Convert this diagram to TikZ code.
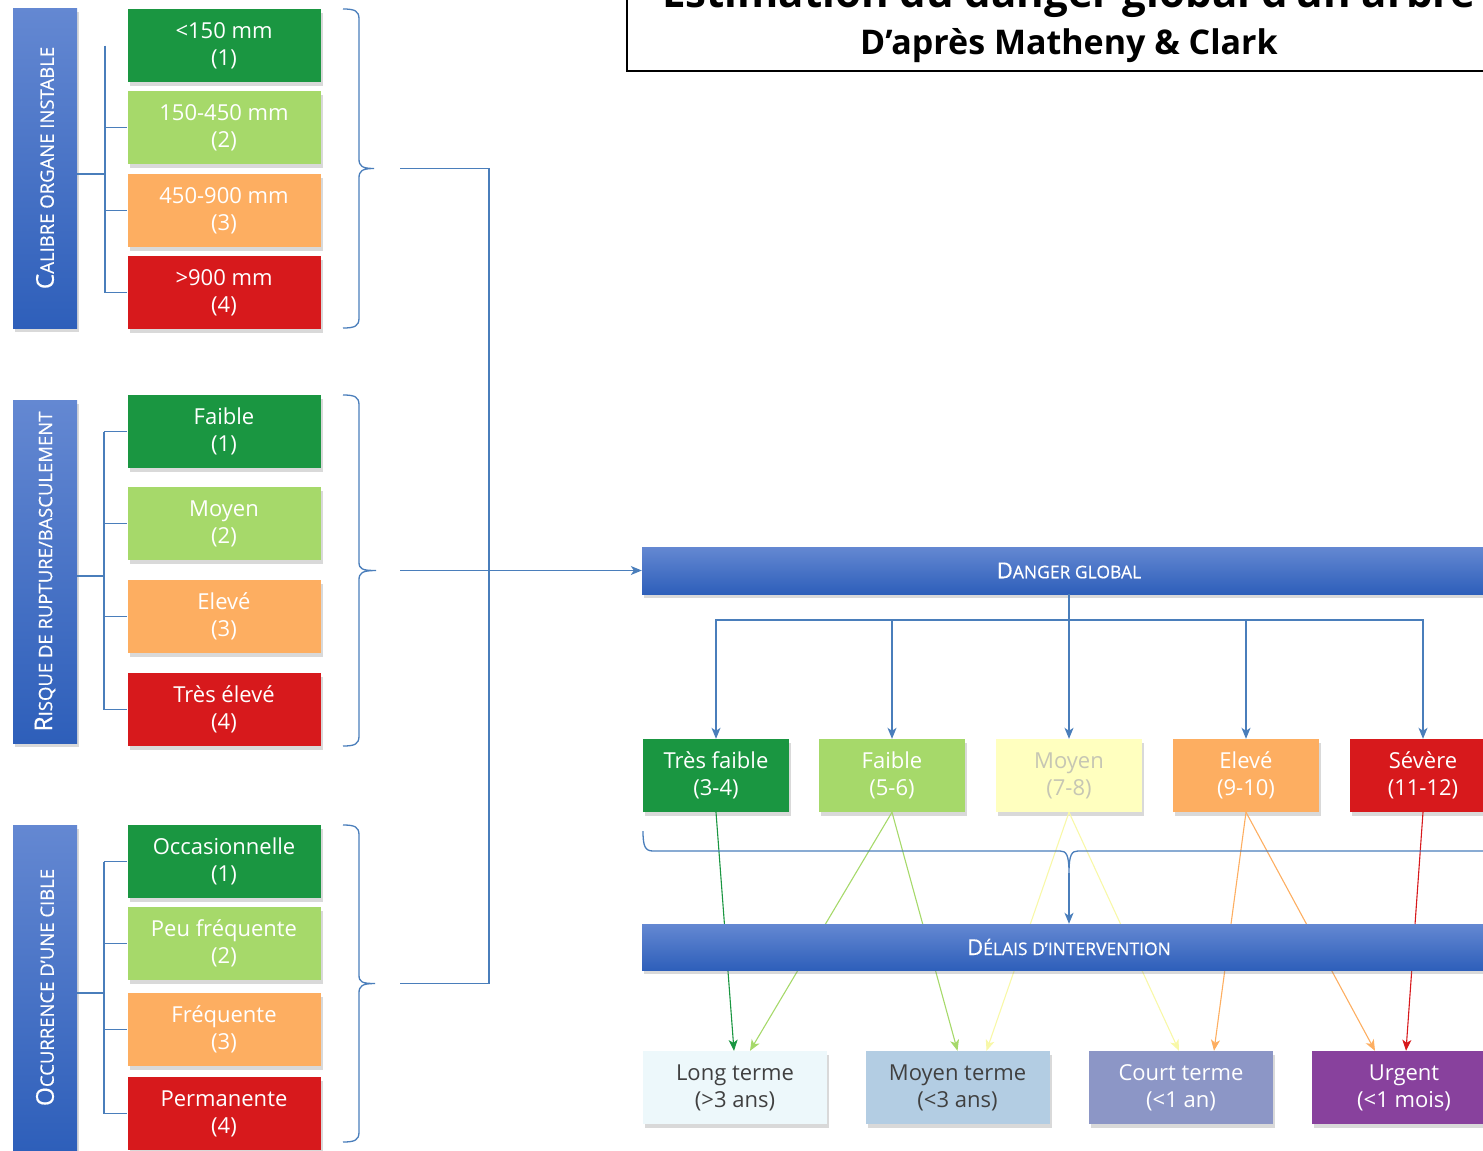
\documentclass[tikz,border=0pt]{standalone}
\usepackage{fontspec}
\setmainfont{Open Sans}
\newfontfamily\semib[FakeBold=0.5]{Open Sans}
\usetikzlibrary{arrows.meta,shadows}
\definecolor{cgreen}{HTML}{1A9641}
\definecolor{clgreen}{HTML}{A6D96A}
\definecolor{cyellow}{HTML}{FFFFBF}
\definecolor{cyline}{HTML}{F8F8A8}
\definecolor{corange}{HTML}{FDAE61}
\definecolor{cred}{HTML}{D7191C}
\definecolor{bpa}{HTML}{EDF8FB}
\definecolor{bpb}{HTML}{B3CDE3}
\definecolor{bpc}{HTML}{8C96C6}
\definecolor{bpd}{HTML}{88419D}
\definecolor{lblue}{HTML}{4A7EBB}
\definecolor{bartop}{HTML}{6488D2}
\definecolor{barbot}{HTML}{2E5FBA}
\definecolor{ytext}{HTML}{C6C6B4}
\definecolor{dtext}{HTML}{404040}
\newcommand\hcap[2]{{\semib\fontsize{22}{26}\selectfont #1}{\semib\fontsize{17.5}{22}\selectfont #2}}
\newcommand\vcap[2]{{\semib\fontsize{24.5}{28}\selectfont #1}{\semib\fontsize{18.5}{22}\selectfont #2}}
\begin{document}
\begin{tikzpicture}[x=1pt,y=-1pt,
  shad/.style={drop shadow={shadow xshift=2pt,shadow yshift=-4pt,opacity=0.3}},
  box/.style={rectangle,inner sep=0pt,align=center,text=white,font=\fontsize{22}{27}\selectfont,shad},
  cbox/.style={box,minimum width=193pt,minimum height=73pt},
  mbox/.style={box,minimum width=146pt,minimum height=73pt},
  dbox/.style={box,minimum width=184pt,minimum height=73pt},
  vbar/.style={rectangle,minimum width=64pt,top color=bartop,bottom color=barbot,draw=none,shad},
  vtext/.style={rotate=90,text=white,inner sep=0pt},
  hbar/.style={rectangle,minimum width=854pt,top color=bartop,bottom color=barbot,draw=none,text=white,shad},
  conn/.style={draw=lblue,line width=1.3pt},
  arr/.style={-{Stealth[length=11pt,width=9pt,inset=3pt]}},
  cl/.style={line width=1.1pt,arr}
]
\useasboundingbox (0,0) rectangle (1483,1151);
\clip (0,0) rectangle (1483,1151);

% title
\node (title) [draw=black,line width=2pt,anchor=south west,minimum width=900pt,minimum height=110pt,inner sep=0pt] at (626,72) {};
\node (t1) [anchor=base,font=\bfseries\fontsize{42}{46}\selectfont] at (1069,8) {Estimation du danger global d’un arbre};
\node (t2) [anchor=base,font=\bfseries\fontsize{34}{38}\selectfont] at (1069,54) {D’après Matheny \& Clark};

% left bars
\node[vbar,minimum height=320pt] (v1) at (45,168) {};
\node[vtext] (v1t) at (v1) {\vcap{C}{ALIBRE ORGANE INSTABLE}};
\node[vbar,minimum height=343pt] (v2) at (45,571.5) {};
\node[vtext] (v2t) at (v2) {\vcap{R}{ISQUE DE RUPTURE/BASCULEMENT}};
\node[vbar,minimum height=325pt] (v3) at (45,987.5) {};
\node[vtext] (v3t) at (v3) {\vcap{O}{CCURRENCE D’UNE CIBLE}};

% column boxes
\node[cbox,fill=cgreen] (c11) at (224,45.5) {<150 mm\\(1)};
\node[cbox,fill=clgreen] (c12) at (224,127.5) {150-450 mm\\(2)};
\node[cbox,fill=corange] (c13) at (224,210.5) {450-900 mm\\(3)};
\node[cbox,fill=cred] (c14) at (224,292.5) {>900 mm\\(4)};

\node[cbox,fill=cgreen] (c21) at (224,431.5) {Faible\\(1)};
\node[cbox,fill=clgreen] (c22) at (224,523.5) {Moyen\\(2)};
\node[cbox,fill=corange] (c23) at (224,616.5) {Elevé\\(3)};
\node[cbox,fill=cred] (c24) at (224,709.5) {Très élevé\\(4)};

\node[cbox,fill=cgreen] (c31) at (224,861.5) {Occasionnelle\\(1)};
\node[cbox,fill=clgreen] (c32) at (224,943.5) {Peu fréquente\\(2)};
\node[cbox,fill=corange] (c33) at (224,1029.5) {Fréquente\\(3)};
\node[cbox,fill=cred] (c34) at (224,1113.5) {Permanente\\(4)};

% trees
\coordinate (k1) at (105,0);
\coordinate (k2) at (104,0);
\draw[conn] ([yshift=-6pt]v1.east) -- ([yshift=-6pt]v1.east -| k1);
\draw[conn] (c11 -| k1) -- (c14 -| k1);
\foreach \n in {c12,c13,c14} \draw[conn] (\n -| k1) -- (\n.west);
\draw[conn] ([yshift=-4.5pt]v2.east) -- ([yshift=-4.5pt]v2.east -| k2);
\draw[conn] (c21 -| k2) -- (c24 -| k2);
\foreach \n in {c21,c22,c23,c24} \draw[conn] (\n -| k2) -- (\n.west);
\draw[conn] ([yshift=-5.5pt]v3.east) -- ([yshift=-5.5pt]v3.east -| k2);
\draw[conn] (c31 -| k2) -- (c34 -| k2);
\foreach \n in {c31,c32,c33,c34} \draw[conn] (\n -| k2) -- (\n.west);

% braces (right-pointing)
\draw[conn] (343,9) .. controls (355,9) and (359,11) .. (359,19) -- (359,159)
  .. controls (359,166) and (362,168.5) .. (374,168.5)
  .. controls (362,168.5) and (359,171) .. (359,178) -- (359,318)
  .. controls (359,326) and (355,328) .. (343,328);
\draw[conn] (343,395) .. controls (355,395) and (359,397) .. (359,405) -- (359,562)
  .. controls (359,569) and (362,570.5) .. (376,570.5)
  .. controls (362,570.5) and (359,573) .. (359,580) -- (359,736)
  .. controls (359,744) and (355,746) .. (343,746);
\draw[conn] (343,825) .. controls (355,825) and (359,827) .. (359,835) -- (359,975)
  .. controls (359,982) and (362,983.5) .. (375,983.5)
  .. controls (362,983.5) and (359,986) .. (359,993) -- (359,1132)
  .. controls (359,1140) and (355,1142) .. (343,1142);

\coordinate (e1) at (400,168.5);
\coordinate (e2) at (400,570.5);
\coordinate (e3) at (400,983.5);
\coordinate (j1) at (489,168.5);
\coordinate (j3) at (489,983.5);
\draw[conn] (e1) -- (j1) -- (j3) -- (e3);

% danger global
\node[hbar,minimum height=47pt] (dg) at (1069,570.5) {\hcap{D}{ANGER GLOBAL}};
\draw[conn,arr] (e2) -- (dg.west);

% middle boxes
\node[mbox,fill=cgreen] (m1) at (716,775.5) {Très faible\\(3-4)};
\node[mbox,fill=clgreen] (m2) at (892,775.5) {Faible\\(5-6)};
\node[mbox,fill=cyellow,text=ytext] (m3) at (1069,775.5) {Moyen\\(7-8)};
\node[mbox,fill=corange] (m4) at (1246,775.5) {Elevé\\(9-10)};
\node[mbox,fill=cred] (m5) at (1423,775.5) {Sévère\\(11-12)};

\coordinate (hub) at (1069,620);
\draw[conn,arr] (dg.south) -- (m3.north);
\foreach \n in {m1,m2,m4,m5} \draw[conn,arr] (hub) -| (\n.north);
\draw[conn] (hub -| m1) -- (hub -| m5);

% bottom boxes
\node[dbox,fill=bpa,text=dtext] (b1) at (735,1087.5) {Long terme\\(>3 ans)};
\node[dbox,fill=bpb,text=dtext] (b2) at (957.5,1087.5) {Moyen terme\\(<3 ans)};
\node[dbox,fill=bpc] (b3) at (1181,1087.5) {Court terme\\(<1 an)};
\node[dbox,fill=bpd] (b4) at (1404,1087.5) {Urgent\\(<1 mois)};

% colored links
\draw[cl,cgreen] (m1.south) -- ([xshift=-1pt]b1.north);
\draw[cl,clgreen] (m2.south) -- ([xshift=15pt]b1.north);
\draw[cl,clgreen] (m2.south) -- ([xshift=0pt]b2.north);
\draw[cl,cyline] (m3.south) -- ([xshift=29pt]b2.north);
\draw[cl,cyline] (m3.south) -- ([xshift=-2pt]b3.north);
\draw[cl,corange] (m4.south) -- ([xshift=33pt]b3.north);
\draw[cl,corange] (m4.south) -- ([xshift=-29pt]b4.north);
\draw[cl,cred] (m5.south) -- ([xshift=2pt]b4.north);

% delais bar
\node[hbar,minimum height=46pt] (dl) at (1069,947) {\hcap{D}{ÉLAIS D’INTERVENTION}};

% lower brace (down-pointing)
\coordinate (bt) at (1069,873);
\draw[conn] (643,831) .. controls (643,846) and (645,851) .. (653,851) -- (1060,851)
  .. controls (1066,851) and (1069,854) .. (bt)
  .. controls (1069,854) and (1072,851) .. (1078,851) -- (1485,851)
  .. controls (1493,851) and (1495,846) .. (1495,831);
\draw[conn,arr] (bt) -- (dl.north);
\end{tikzpicture}
\end{document}
